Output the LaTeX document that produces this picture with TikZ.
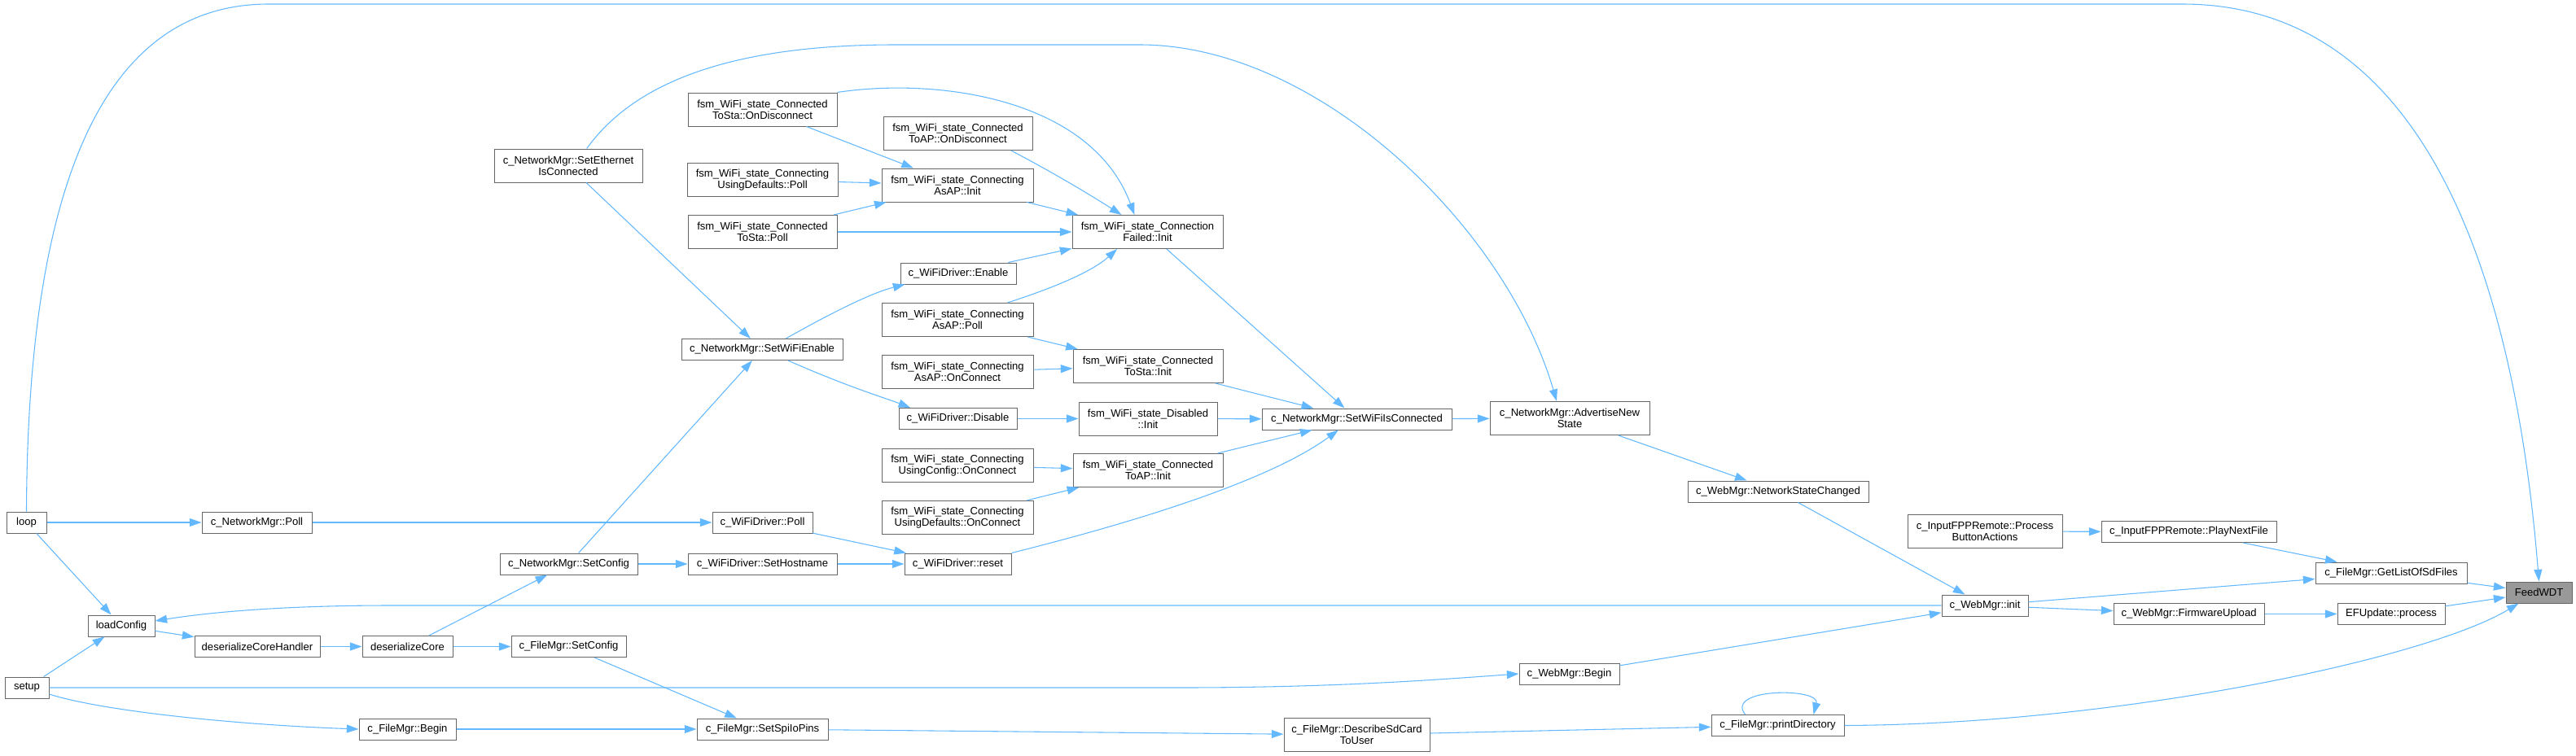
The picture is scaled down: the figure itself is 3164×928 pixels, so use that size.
\documentclass[tikz,border=0pt]{standalone}
\usepackage{fontspec}
\setmainfont{Liberation Sans}
\usepackage{xcolor}
\usepackage{tikz}
\usetikzlibrary{arrows.meta}
\definecolor{edgeblue}{HTML}{63B8FF}
\definecolor{boxgray}{HTML}{666666}
\definecolor{fngray}{HTML}{999999}

\begin{document}
\begin{tikzpicture}[x=0.75pt,y=-0.75pt,>={Triangle[length=11pt,width=7.5pt]},
fn/.style={draw=boxgray,fill=white,line width=0.75pt,inner sep=1pt,align=center,minimum height=19.5pt,font=\fontsize{9.8}{10.5}\selectfont},
fn2/.style={fn,minimum height=30.75pt},
call/.style={edgeblue,line width=0.8pt,->}]
\useasboundingbox(0,0)rectangle(3164,928);
\node[fn,minimum width=36.75pt](loop)at(32.5,642){loop};
\node[fn,minimum width=40.5pt](setup)at(33,845){setup};
\node[fn,minimum width=61.5pt](loadcfg)at(149,769){loadConfig};
\node[fn,minimum width=115.5pt](dsch)at(316,794.5){deserializeCoreHandler};
\node[fn,minimum width=83.25pt](dsc)at(500.5,794.5){deserializeCore};
\node[fn,minimum width=101.25pt](nmpoll)at(315.5,642){c\_NetworkMgr::Poll};
\node[fn,minimum width=126.75pt](nmcfg)at(698.5,693){c\_NetworkMgr::SetConfig};
\node[fn,minimum width=105.75pt](fmcfg)at(698.5,794.5){c\_FileMgr::SetConfig};
\node[fn,minimum width=89.25pt](fmbegin)at(500.5,896){c\_FileMgr::Begin};
\node[fn,minimum width=120.75pt](spi)at(936.5,896){c\_FileMgr::SetSpiIoPins};
\node[fn2,minimum width=136.5pt](ethcon)at(698,203.5){c\_NetworkMgr::SetEthernet\\IsConnected};
\node[fn,minimum width=148.5pt](wifien)at(936,429.5){c\_NetworkMgr::SetWiFiEnable};
\node[fn,minimum width=92.25pt](drvpoll)at(936.5,642){c\_WiFiDriver::Poll};
\node[fn,minimum width=137.25pt](hostname)at(936.5,693){c\_WiFiDriver::SetHostname};
\node[fn,minimum width=98.25pt](reset)at(1176.5,693){c\_WiFiDriver::reset};
\node[fn,minimum width=106.5pt](enable)at(1177,336){c\_WiFiDriver::Enable};
\node[fn,minimum width=108.75pt](disable)at(1176.5,514.5){c\_WiFiDriver::Disable};
\node[fn2,minimum width=137.25pt](staodc)at(936.5,134.5){fsm\_WiFi\_state\_Connected\\ToSta::OnDisconnect};
\node[fn2,minimum width=138.75pt](defpoll)at(936.5,221){fsm\_WiFi\_state\_Connecting\\UsingDefaults::Poll};
\node[fn2,minimum width=137.25pt](stapoll)at(936.5,285){fsm\_WiFi\_state\_Connected\\ToSta::Poll};
\node[fn2,minimum width=137.25pt](apodc)at(1176.5,164){fsm\_WiFi\_state\_Connected\\ToAP::OnDisconnect};
\node[fn2,minimum width=139.5pt](apinit)at(1176,227.5){fsm\_WiFi\_state\_Connecting\\AsAP::Init};
\node[fn2,minimum width=138.75pt](failinit)at(1409.5,285){fsm\_WiFi\_state\_Connection\\Failed::Init};
\node[fn2,minimum width=139.5pt](appoll)at(1176,393){fsm\_WiFi\_state\_Connecting\\AsAP::Poll};
\node[fn2,minimum width=138pt](stainit)at(1410,450){fsm\_WiFi\_state\_Connected\\ToSta::Init};
\node[fn2,minimum width=139.5pt](apconn)at(1176,457){fsm\_WiFi\_state\_Connecting\\AsAP::OnConnect};
\node[fn2,minimum width=127.5pt](disinit)at(1410,514.5){fsm\_WiFi\_state\_Disabled\\::Init};
\node[fn,minimum width=174.75pt](wificon)at(1666.5,515){c\_NetworkMgr::SetWiFiIsConnected};
\node[fn2,minimum width=147pt](advert)at(1928,514){c\_NetworkMgr::AdvertiseNew\\State};
\node[fn2,minimum width=139.5pt](cfgconn)at(1176,572){fsm\_WiFi\_state\_Connecting\\UsingConfig::OnConnect};
\node[fn2,minimum width=138pt](toapinit)at(1410,578){fsm\_WiFi\_state\_Connected\\ToAP::Init};
\node[fn2,minimum width=139.5pt](defconn)at(1176,636){fsm\_WiFi\_state\_Connecting\\UsingDefaults::OnConnect};
\node[fn,minimum width=166.5pt](netchg)at(2184,604){c\_WebMgr::NetworkStateChanged};
\node[fn2,minimum width=142.5pt](btnact)at(2438,653){c\_InputFPPRemote::Process\\ButtonActions};
\node[fn,minimum width=161.25pt](playnext)at(2688.5,653.5){c\_InputFPPRemote::PlayNextFile};
\node[fn,minimum width=139.5pt](sdfiles)at(2937,704){c\_FileMgr::GetListOfSdFiles};
\node[fn,minimum width=60.75pt,fill=fngray](feed)at(3118.5,728){FeedWDT};
\node[fn,minimum width=79.5pt](webinit)at(2438,744){c\_WebMgr::init};
\node[fn,minimum width=138.75pt](fwup)at(2688.5,754.5){c\_WebMgr::FirmwareUpload};
\node[fn,minimum width=99pt](efup)at(2937,754.5){EFUpdate::process};
\node[fn,minimum width=92.25pt](webbegin)at(1927.5,828){c\_WebMgr::Begin};
\node[fn2,minimum width=134.25pt](sdcard)at(1666.5,903){c\_FileMgr::DescribeSdCard\\ToUser};
\node[fn,minimum width=122.25pt](printdir)at(2183.5,891.5){c\_FileMgr::printDirectory};
\draw[call](loop.north)..controls(34,220)and(130,5)..(330,5)--(2680,5)..controls(2960,5)and(3085,300)..(feed.north);
\draw[call](loop)--(nmpoll);
\draw[call](loop)--(loadcfg);
\draw[call](setup)--(loadcfg);
\draw[call](setup.east)--(1450,845)..controls(1650,845)and(1780,834)..(webbegin.west);
\draw[call]([yshift=-6pt]setup.east)..controls(130,875)and(300,891)..(fmbegin.west);
\draw[call](loadcfg)--(dsch);
\draw[call](dsch)--(dsc);
\draw[call](dsc)--(nmcfg);
\draw[call](dsc)--(fmcfg);
\draw[call](fmcfg)--(spi);
\draw[call](fmbegin)--(spi);
\draw[call](spi)--(sdcard);
\draw[call](sdcard)--(printdir);
\draw[call]([xshift=-30pt]printdir.north)..controls(2118,845)and(2236,845)..([xshift=33pt]printdir.north);
\draw[call](printdir.east)..controls(2600,890)and(2980,810)..([xshift=12pt]feed.south west);
\draw[call](nmpoll)--(drvpoll);
\draw[call](drvpoll)--(reset);
\draw[call](nmcfg)--(hostname);
\draw[call](nmcfg)--(wifien);
\draw[call](hostname)--(reset);
\draw[call](reset.north east)..controls(1400,640)and(1560,590)..([xshift=-17pt]wificon.south);
\draw[call](ethcon)--(wifien);
\draw[call]([xshift=17pt]ethcon.north)..controls(780,100)and(900,55)..(1100,55)--(1400,55)..controls(1620,55)and(1850,280)..([xshift=-12pt]advert.north);
\draw[call]([xshift=22pt]wifien.north)..controls(1020,385)and(1070,360)..([xshift=4.5pt]enable.south west);
\draw[call]([xshift=24pt]wifien.south)..controls(1040,475)and(1090,490)..([xshift=11pt]disable.north west);
\draw[call](enable)--(failinit);
\draw[call](disable)--(disinit);
\draw[call](staodc)--(apinit);
\draw[call](staodc.north east)..controls(1150,95)and(1340,120)..([xshift=-12pt]failinit.north);
\draw[call](defpoll)--(apinit);
\draw[call](stapoll)--(apinit);
\draw[call](stapoll)--(failinit);
\draw[call]([xshift=49pt]apodc.south)..controls(1290,210)and(1340,240)..([xshift=-24pt]failinit.north);
\draw[call](apinit)--(failinit);
\draw[call]([xshift=46pt]appoll.north)..controls(1290,355)and(1340,335)..([xshift=-28pt]failinit.south);
\draw[call](appoll)--(stainit);
\draw[call](apconn)--(stainit);
\draw[call](failinit)--(wificon);
\draw[call](stainit)--(wificon);
\draw[call](disinit)--(wificon);
\draw[call](toapinit)--(wificon);
\draw[call](cfgconn)--(toapinit);
\draw[call](defconn)--(toapinit);
\draw[call](wificon)--(advert);
\draw[call](advert)--(netchg);
\draw[call](netchg)--(webinit);
\draw[call](webbegin)--(webinit);
\draw[call](webinit.west)--(480,744)..controls(350,744)and(260,752)..([yshift=4.5pt]loadcfg.east);
\draw[call](webinit)--(sdfiles);
\draw[call](webinit)--(fwup);
\draw[call](fwup)--(efup);
\draw[call](efup)--(feed);
\draw[call](sdfiles)--(feed);
\draw[call](btnact)--(playnext);
\draw[call](playnext)--(sdfiles);
\end{tikzpicture}
\end{document}
